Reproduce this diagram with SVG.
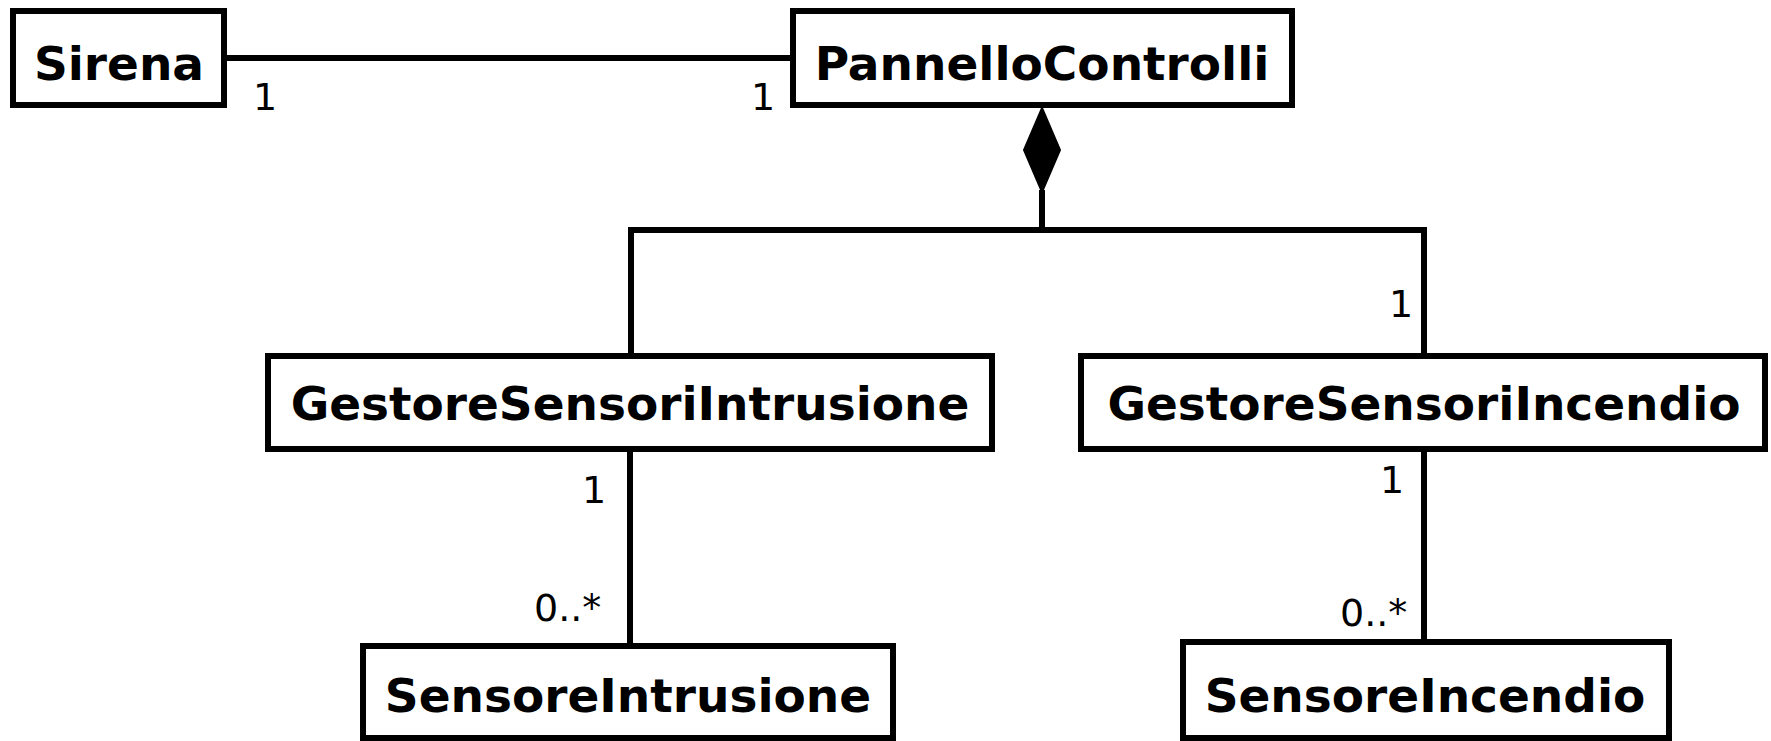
<svg xmlns="http://www.w3.org/2000/svg" width="1771" height="741" viewBox="0 0 1771 741">
  <style>
    .box { fill: #ffffff; stroke: #000000; stroke-width: 6; }
    .name { font-family: "DejaVu Sans", "Liberation Sans", sans-serif; font-weight: bold; font-size: 47px; fill: #000000; text-anchor: middle; }
    .mult { font-family: "DejaVu Sans", "Liberation Sans", sans-serif; font-size: 38px; fill: #000000; }
    .link { fill: none; stroke: #000000; stroke-width: 6; }
  </style>
  <rect x="0" y="0" width="1771" height="741" fill="#ffffff"/>

  <!-- associations and composition -->
  <g id="connectors">
    <line class="link" x1="227" y1="58" x2="790" y2="58"/>
    <polyline class="link" points="1042,190 1042,230 631,230 631,356"/>
    <polyline class="link" points="1042,230 1424,230 1424,356"/>
    <polygon points="1042,108 1060,150 1042,192 1024,150" fill="#000000" stroke="#000000" stroke-width="2"/>
    <line class="link" x1="630" y1="452" x2="630" y2="646"/>
    <line class="link" x1="1424" y1="452" x2="1424" y2="642"/>
    <text class="mult" x="253" y="110">1</text>
    <text class="mult" x="751" y="110">1</text>
    <text class="mult" x="1389" y="317">1</text>
    <text class="mult" x="582" y="503">1</text>
    <text class="mult" x="534" y="621">0..*</text>
    <text class="mult" x="1380" y="493">1</text>
    <text class="mult" x="1340" y="626">0..*</text>
  </g>

  <g id="sirena">
    <rect class="box" x="13" y="11" width="211" height="94"/>
    <text class="name" x="119" y="80">Sirena</text>
  </g>

  <g id="pannello-controlli">
    <rect class="box" x="793" y="11" width="499" height="94"/>
    <text class="name" x="1042" y="80">PannelloControlli</text>
  </g>

  <g id="gestore-sensori-intrusione">
    <rect class="box" x="268" y="356" width="724" height="93"/>
    <text class="name" x="630" y="420">GestoreSensoriIntrusione</text>
  </g>

  <g id="gestore-sensori-incendio">
    <rect class="box" x="1081" y="356" width="684" height="93"/>
    <text class="name" x="1424" y="420">GestoreSensoriIncendio</text>
  </g>

  <g id="sensore-intrusione">
    <rect class="box" x="363" y="646" width="530" height="92"/>
    <text class="name" x="628" y="712">SensoreIntrusione</text>
  </g>

  <g id="sensore-incendio">
    <rect class="box" x="1183" y="642" width="486" height="96"/>
    <text class="name" x="1425" y="712">SensoreIncendio</text>
  </g>
</svg>
